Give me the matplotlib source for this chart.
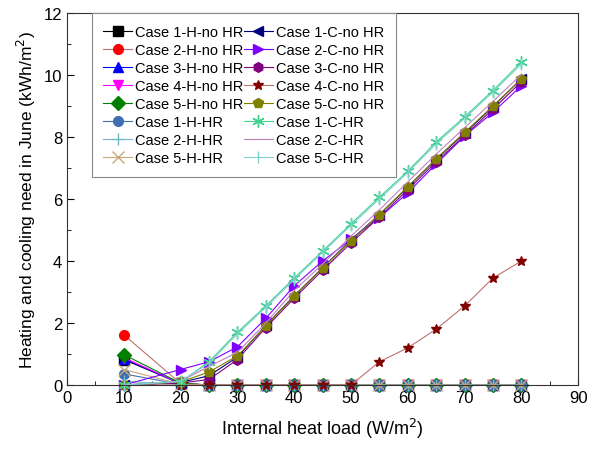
import matplotlib.pyplot as plt

plt.rcParams['font.family'] = ['Liberation Sans', 'DejaVu Sans']

# internal heat load (W/m2)
loads = [10, 20, 25, 30, 35, 40, 45, 50, 55, 60, 65, 70, 75, 80]

# heating need (kWh/m2)
h1_nohr = [0.82, 0.05, 0, 0, 0, 0, 0, 0, 0, 0, 0, 0, 0, 0]
h2_nohr = [1.62, 0.05, 0, 0, 0, 0, 0, 0, 0, 0, 0, 0, 0, 0]
h3_nohr = [0.85, 0.04, 0, 0, 0, 0, 0, 0, 0, 0, 0, 0, 0, 0]
h4_nohr = [0.88, 0.05, 0, 0, 0, 0, 0, 0, 0, 0, 0, 0, 0, 0]
h5_nohr = [0.98, 0.06, 0, 0, 0, 0, 0, 0, 0, 0, 0, 0, 0, 0]
h1_hr = [0.36, 0.02, 0, 0, 0, 0, 0, 0, 0, 0, 0, 0, 0, 0]
h2_hr = [0.12, 0.02, 0, 0, 0, 0, 0, 0, 0, 0, 0, 0, 0, 0]
h5_hr = [0.50, 0.03, 0, 0, 0, 0, 0, 0, 0, 0, 0, 0, 0, 0]

# cooling need (kWh/m2)
c1_nohr = [0.0, 0.08, 0.30, 0.90, 1.92, 2.88, 3.78, 4.68, 5.50, 6.38, 7.28, 8.12, 8.98, 9.88]
c2_nohr = [0.0, 0.50, 0.75, 1.23, 2.15, 3.20, 4.00, 4.70, 5.40, 6.20, 7.13, 8.03, 8.80, 9.65]
c3_nohr = [0.0, 0.06, 0.18, 0.82, 1.85, 2.80, 3.70, 4.58, 5.42, 6.30, 7.20, 8.05, 8.90, 9.78]
c4_nohr = [0, 0, 0, 0, 0, 0, 0, 0, 0.75, 1.20, 1.80, 2.55, 3.45, 4.00]
c5_nohr = [0.0, 0.10, 0.42, 0.94, 1.90, 2.87, 3.77, 4.65, 5.50, 6.40, 7.30, 8.15, 9.00, 9.87]
c1_hr = [0.0, 0.10, 0.75, 1.70, 2.55, 3.45, 4.32, 5.20, 6.06, 6.90, 7.84, 8.65, 9.50, 10.42]
c2_hr = [0.0, 0.12, 0.60, 1.05, 2.00, 3.05, 3.90, 4.80, 5.65, 6.55, 7.45, 8.30, 9.15, 10.02]
c5_hr = [0.0, 0.12, 0.70, 1.65, 2.50, 3.40, 4.28, 5.15, 6.00, 6.85, 7.78, 8.60, 9.45, 10.35]

series = [
    ("Case 1-H-no HR", h1_nohr, "s", "black"),
    ("Case 2-H-no HR", h2_nohr, "o", "#ff0000"),
    ("Case 3-H-no HR", h3_nohr, "^", "#0000ff"),
    ("Case 4-H-no HR", h4_nohr, "v", "#ff00ff"),
    ("Case 5-H-no HR", h5_nohr, "D", "#008000"),
    ("Case 1-H-HR", h1_hr, "o", "#3f6fb0"),
    ("Case 2-H-HR", h2_hr, "+", "#70b8c8"),
    ("Case 5-H-HR", h5_hr, "x", "#c8a878"),
    ("Case 1-C-no HR", c1_nohr, "<", "#000080"),
    ("Case 2-C-no HR", c2_nohr, ">", "#8000ff"),
    ("Case 3-C-no HR", c3_nohr, "h", "#800080"),
    ("Case 4-C-no HR", c4_nohr, "*", "#800000"),
    ("Case 5-C-no HR", c5_nohr, "p", "#808000"),
    ("Case 1-C-HR", c1_hr, (6, 2, 0), "#40d090"),
    ("Case 2-C-HR", c2_hr, "None", "#c080c0"),
    ("Case 5-C-HR", c5_hr, "|", "#80d0d0"),
]

fig = plt.figure(figsize=(5.93, 4.52), dpi=100)
ax = fig.add_axes([0.113, 0.146, 0.862, 0.823])

for name, vals, mk, col in series:
    ms = 7
    if mk in ("+", "x", "|") or isinstance(mk, tuple):
        ms = 9
    line_col = col
    if name in ("Case 2-H-no HR", "Case 4-C-no HR"):
        line_col = "#c07070"
    ax.plot(loads, vals, color=line_col, lw=0.8, marker=mk, markersize=ms,
            markerfacecolor=col, markeredgecolor=col, markeredgewidth=1.0,
            label=name, clip_on=False)

ax.set_xlim(0, 90)
ax.set_ylim(0, 12)
ax.set_xticks(range(0, 91, 10))
ax.set_xticks(range(5, 90, 10), minor=True)
ax.set_yticks(range(0, 13, 2))
ax.set_yticks(range(1, 12, 2), minor=True)
ax.tick_params(which='both', direction='in', labelsize=12)
ax.tick_params(which='major', length=5)
ax.tick_params(which='minor', length=3)
for sp in ax.spines.values():
    sp.set_color('#333333')

ax.set_xlabel("Internal heat load (W/m$^2$)", fontsize=13, labelpad=8)
ax.set_ylabel("Heating and cooling need in June (kWh/m$^2$)", fontsize=12.5)

leg = ax.legend(ncol=2, loc='upper left', bbox_to_anchor=(0.048, 1.0), fontsize=10.5,
                fancybox=False, edgecolor='#888888', framealpha=1,
                columnspacing=0.0, handlelength=2.0, handletextpad=0.2,
                labelspacing=0.28, borderpad=0.8, borderaxespad=0)
leg.get_frame().set_linewidth(0.8)

fig.savefig("out.png", dpi=100)
